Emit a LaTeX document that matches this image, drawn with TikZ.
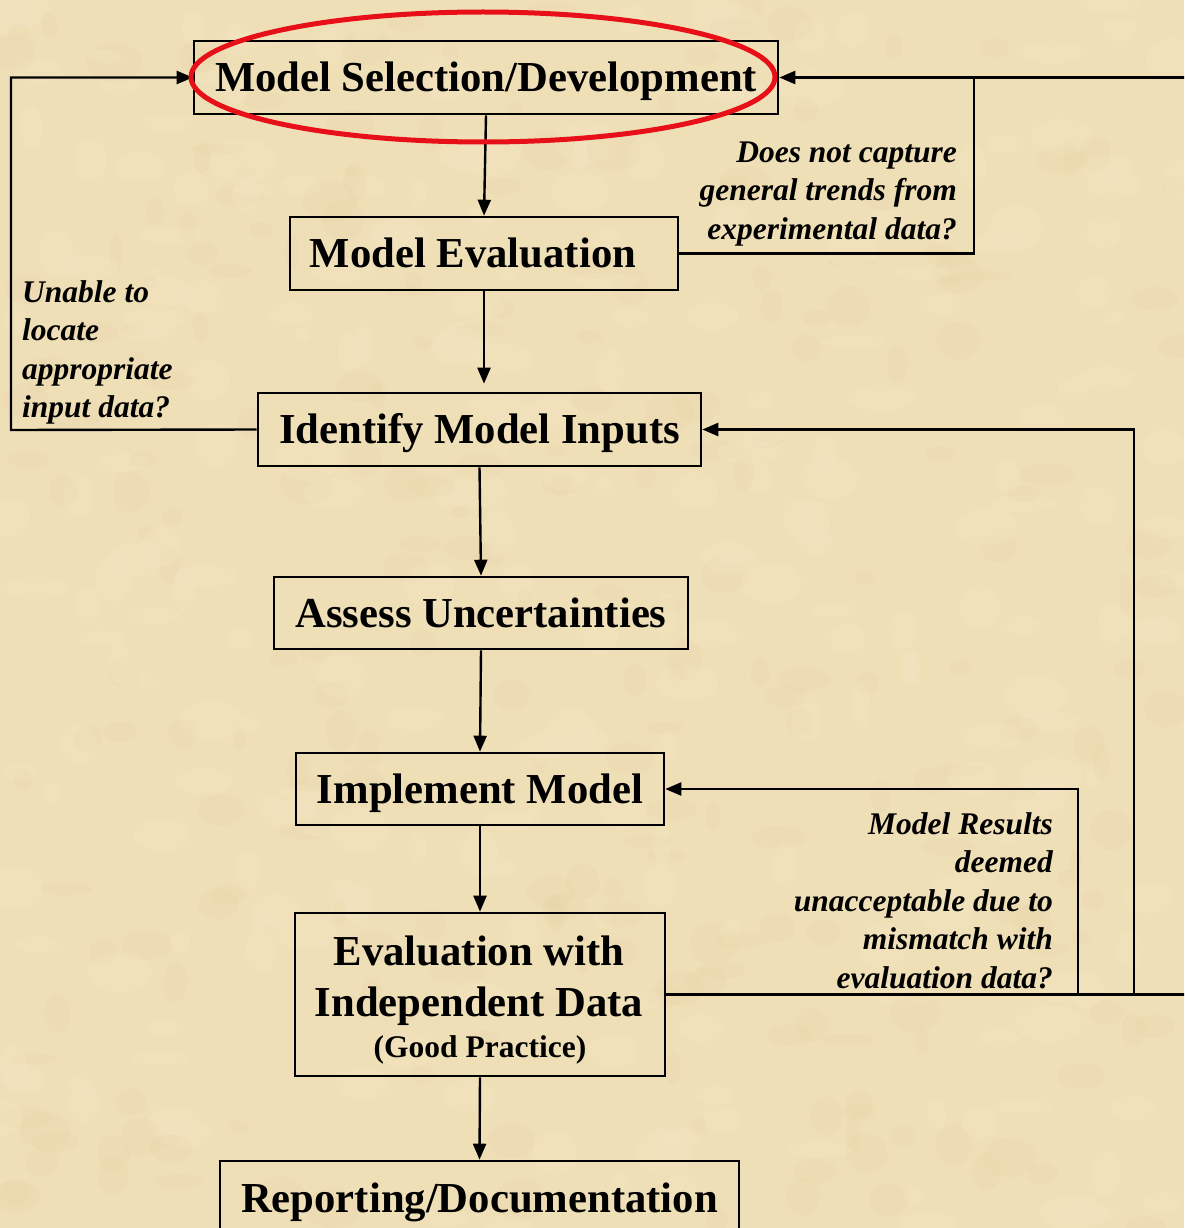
\documentclass[tikz,border=0pt]{standalone}
\usepackage{fontspec}
\setmainfont{Liberation Serif}
\usetikzlibrary{arrows.meta}
\definecolor{parch}{RGB}{239,223,182}
\definecolor{parchlight}{RGB}{246,234,204}
\definecolor{parchdark}{RGB}{228,207,165}
\definecolor{hired}{RGB}{232,16,24}
\begin{document}
\begin{tikzpicture}[x=1pt,y=-1pt,
 stepbox/.style={draw=black,line width=2.6pt,inner sep=0pt,font=\fontsize{42.7}{51}\selectfont\bfseries,align=center,text height=28pt,text depth=0pt},
 conn/.style={line width=2.4pt,draw=black},
 arr/.style={conn,-{Triangle[length=16pt,width=13pt]}},
 note/.style={font=\fontsize{31.5}{38.4}\selectfont\bfseries\itshape,inner sep=0pt}]
\useasboundingbox (0,0) rectangle (1184,1228);
\clip (0,0) rectangle (1184,1228);
\fill[parch] (0,0) rectangle (1184,1228);
\pgfmathsetseed{11}
\foreach \i in {1,...,260} {
  \fill[parchlight,opacity=0.22] ({rnd*1184},{rnd*1228}) ellipse [x radius={8pt+rnd*26pt},y radius={6pt+rnd*18pt}];
  \fill[parchdark,opacity=0.16] ({rnd*1184},{rnd*1228}) ellipse [x radius={6pt+rnd*22pt},y radius={5pt+rnd*16pt}];
}

\node[stepbox,minimum width=584pt,minimum height=73pt] (msd) at (486,77.5) {Model Selection/Development};
\node[stepbox,minimum width=388pt,minimum height=73pt] (me) at (484,253.5) {Model Evaluation\hspace*{22pt}};
\node[stepbox,minimum width=443pt,minimum height=73pt] (imi) at (479.5,429.5) {Identify Model Inputs};
\node[stepbox,minimum width=414pt,minimum height=72pt] (au) at (481,613) {Assess Uncertainties};
\node[stepbox,minimum width=368pt,minimum height=72pt] (im) at (480,789) {Implement Model};
\node[stepbox,minimum width=370pt,minimum height=163pt] (eid) at (480,994.5) {};
\node[font=\fontsize{42.7}{51}\selectfont\bfseries,align=center,inner sep=0pt,text height=28pt,text depth=0pt] (eidt) at (479,1002) {Evaluation with\\Independent Data};
\node[font=\fontsize{31.5}{36}\selectfont\bfseries,inner sep=0pt,text height=21pt,text depth=0pt] (eidg) at (480,1047) {(Good Practice)};
\node[stepbox,minimum width=519pt,minimum height=74pt] (rd) at (479.5,1198) {Reporting/Documentation};

\draw[arr] (msd.south) -- (me.north);
\draw[arr,shorten >=8pt] (me.south) -- (me.south |- imi.north);
\draw[arr] (imi.south) -- (au.north);
\draw[arr] (au.south) -- (im.north);
\draw[arr] (im.south) -- (eid.north);
\draw[arr] (eid.south) -- (rd.north);

\coordinate (lft) at (11,430);
\draw[arr] (imi.west) -- (lft) |- (msd.west);
\coordinate (trk) at (974,253.5);
\coordinate (edgeT) at (1192,77.5);
\draw[arr] (edgeT) -- (msd.east);
\draw[conn] (me.east) -- (trk) -- (trk |- msd.east);
\coordinate (edgeB) at (1192,994.5);
\draw[conn] (eid.east) -- (edgeB);
\coordinate (midr) at (1134,994.5);
\draw[arr] (midr) |- (imi.east);
\coordinate (innr) at (1078,994.5);
\draw[arr] (innr) |- (im.east);

\node[note,align=right,anchor=east] (n1) at (957,194) {Does not capture\\general trends from\\experimental data?};
\node[note,align=left,anchor=west] (n2) at (22,352.5) {Unable to\\locate\\appropriate\\input data?};
\node[note,align=right,anchor=east] (n3) at (1053,900.5) {Model Results\\deemed\\unacceptable due to\\mismatch with\\evaluation data?};

\draw[hired,line width=5pt] (483,77) ellipse [x radius=292pt,y radius=65pt];
\end{tikzpicture}
\end{document}
